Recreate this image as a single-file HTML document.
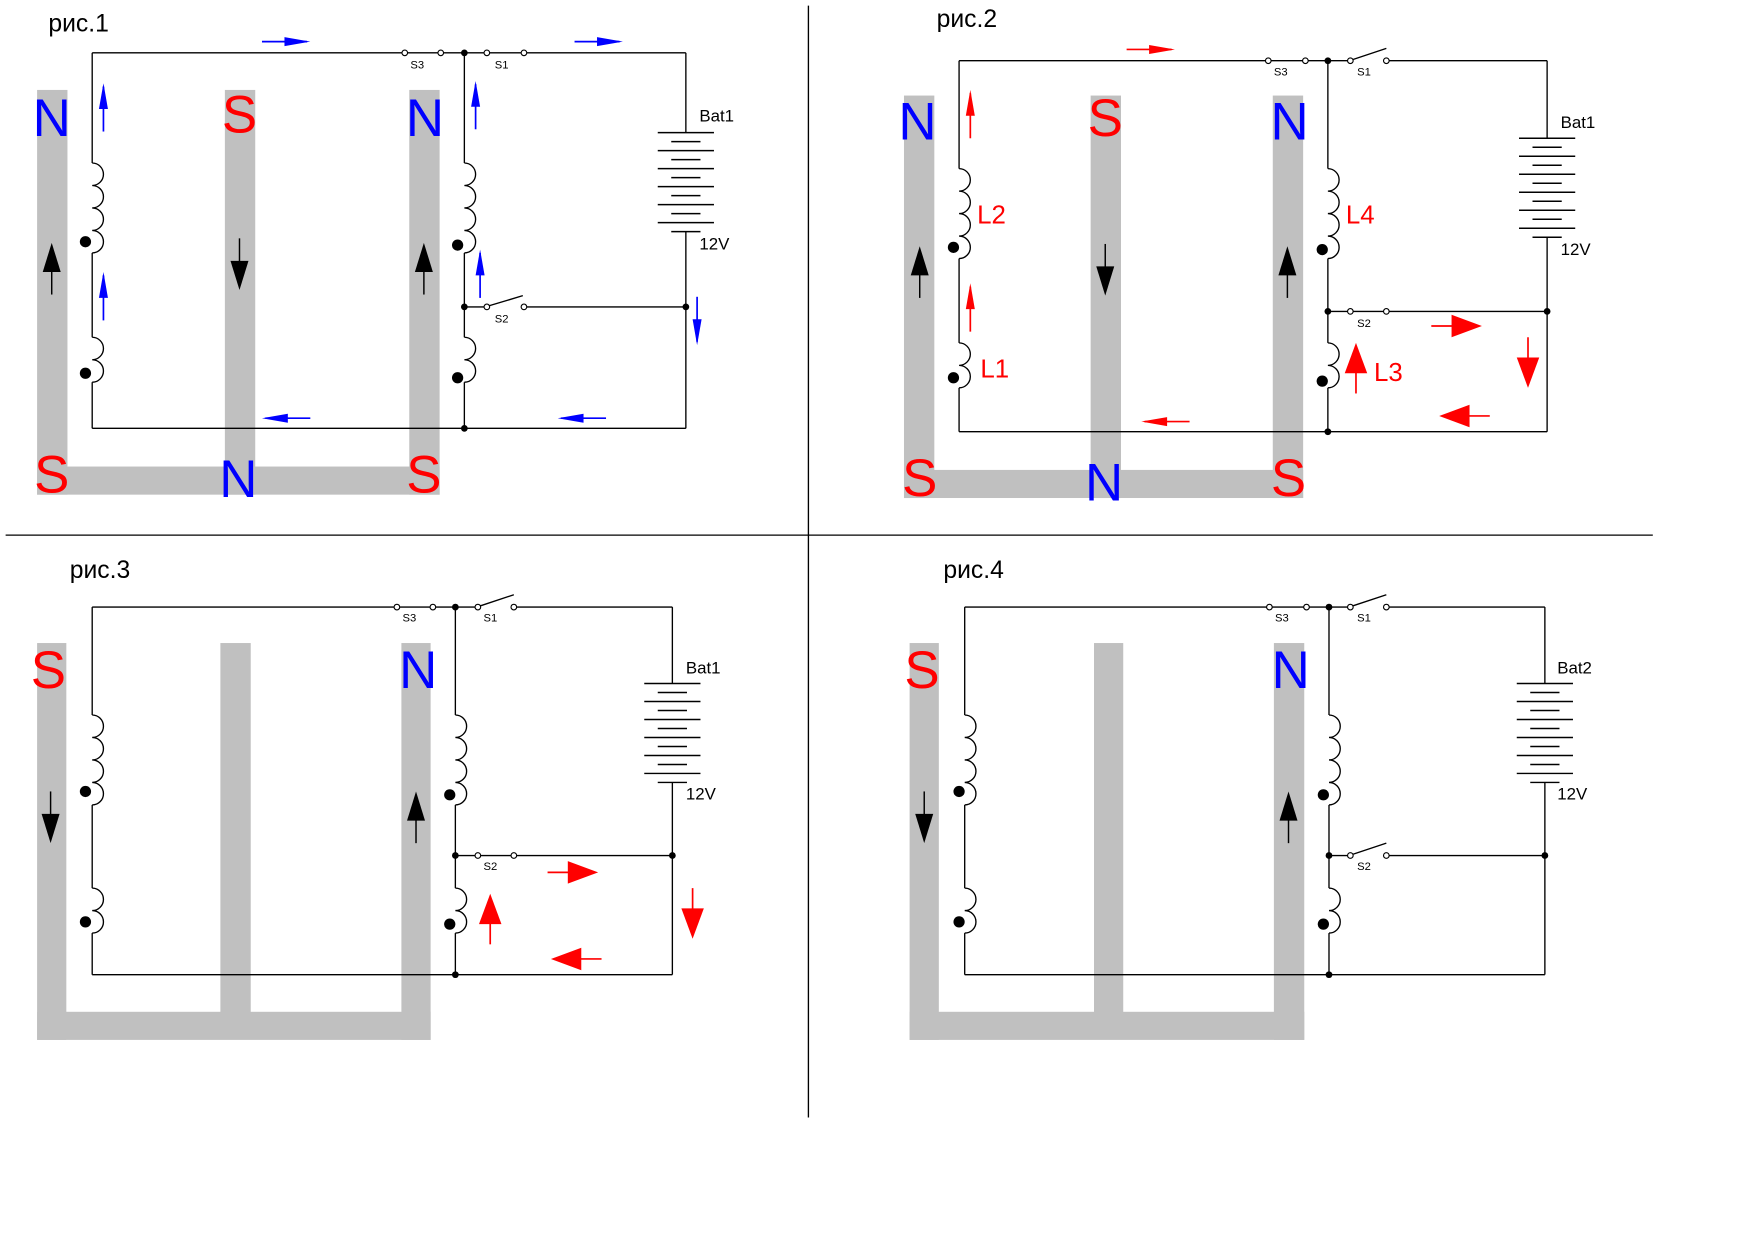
<!DOCTYPE html>
<html><head><meta charset="utf-8"><style>html,body{margin:0;padding:0;background:#fff}svg{display:block}</style></head><body>
<svg width="1754" height="1240" viewBox="0 0 1560 1103" preserveAspectRatio="none" xmlns="http://www.w3.org/2000/svg" font-family="Liberation Sans, sans-serif">
<defs>
<path id="c4" d="M0,0 a10,10 0 0 1 0,20 a10,10 0 0 1 0,20 a10,10 0 0 1 0,20 a10,10 0 0 1 0,20" fill="none" stroke="#000" stroke-width="1.2"/>
<path id="c2" d="M0,0 a10,10 0 0 1 0,20 a10,10 0 0 1 0,20" fill="none" stroke="#000" stroke-width="1.2"/>
<g id="bat" stroke="#000" stroke-width="1.3">
<line x1="-25" y1="0" x2="25" y2="0"/><line x1="-13" y1="8" x2="13" y2="8"/>
<line x1="-25" y1="16" x2="25" y2="16"/><line x1="-13" y1="24" x2="13" y2="24"/>
<line x1="-25" y1="32" x2="25" y2="32"/><line x1="-13" y1="40" x2="13" y2="40"/>
<line x1="-25" y1="48" x2="25" y2="48"/><line x1="-13" y1="56" x2="13" y2="56"/>
<line x1="-25" y1="64" x2="25" y2="64"/><line x1="-13" y1="72" x2="13" y2="72"/>
<line x1="-25" y1="80" x2="25" y2="80"/><line x1="-13" y1="88" x2="13" y2="88"/>
</g>
<g id="sa"><line x1="0" y1="0" x2="40" y2="0" stroke="#00f" stroke-width="1.5"/><polygon points="20,-4 43,0 20,4" fill="#00f"/></g>
<g id="ra"><line x1="0" y1="0" x2="40" y2="0" stroke="#f00" stroke-width="1.5"/><polygon points="20,-4 43,0 20,4" fill="#f00"/></g>
<g id="ba"><line x1="0" y1="0" x2="22" y2="0" stroke="#f00" stroke-width="1.5"/><polygon points="18,-10 45,0 18,10" fill="#f00"/></g>
<g id="ka"><line x1="0" y1="0" x2="22" y2="0" stroke="#000" stroke-width="1.3"/><polygon points="20,-8 46,0 20,8" fill="#000"/></g>
</defs>
<!-- dividers -->
<g stroke="#000" stroke-width="1.2"><line x1="719" y1="5" x2="719" y2="994"/><line x1="5" y1="476" x2="1470" y2="476"/></g>

<!-- ===== PANEL 1 ===== -->
<g fill="#c0c0c0"><rect x="33" y="80" width="27" height="360"/><rect x="200" y="80" width="27" height="360"/><rect x="364" y="80" width="27" height="360"/><rect x="33" y="415" width="358" height="25"/></g>
<text x="43" y="28" font-size="22">рис.1</text>
<g stroke="#000" stroke-width="1.2" fill="none">
<line x1="82" y1="47" x2="610" y2="47"/>
<line x1="82" y1="381" x2="610" y2="381"/>
<polyline points="610,47 610,118"/><polyline points="610,206 610,381"/>
<line x1="82" y1="47" x2="82" y2="145"/><line x1="82" y1="225" x2="82" y2="300"/><line x1="82" y1="340" x2="82" y2="381"/>
<line x1="413" y1="47" x2="413" y2="145"/><line x1="413" y1="225" x2="413" y2="300"/><line x1="413" y1="340" x2="413" y2="381"/>
<line x1="413" y1="273" x2="433" y2="273"/><line x1="435" y1="272" x2="465" y2="263"/><line x1="466" y1="273" x2="610" y2="273"/>
</g>
<use href="#c4" x="82" y="145"/><use href="#c2" x="82" y="300"/>
<use href="#c4" x="413" y="145"/><use href="#c2" x="413" y="300"/>
<use href="#bat" x="610" y="118"/>
<g fill="#000"><circle cx="76" cy="215" r="5"/><circle cx="76" cy="332" r="5"/><circle cx="407" cy="218" r="5"/><circle cx="407" cy="336" r="5"/>
<circle cx="413" cy="47" r="3"/><circle cx="413" cy="273" r="3"/><circle cx="413" cy="381" r="3"/><circle cx="610" cy="273" r="3"/></g>
<g fill="#fff" stroke="#000" stroke-width="1"><circle cx="360" cy="47" r="2.5"/><circle cx="392" cy="47" r="2.5"/><circle cx="433" cy="47" r="2.5"/><circle cx="466" cy="47" r="2.5"/><circle cx="433" cy="273" r="2.5"/><circle cx="466" cy="273" r="2.5"/></g>
<g font-size="10"><text x="365" y="61">S3</text><text x="440" y="61">S1</text><text x="440" y="287">S2</text></g>
<g font-size="15"><text x="622" y="108">Bat1</text><text x="622" y="222">12V</text></g>
<g font-size="47" text-anchor="middle">
<text x="46" y="121" fill="#00f">N</text><text x="213" y="118" fill="#f00">S</text><text x="378" y="121" fill="#00f">N</text>
<text x="46" y="438" fill="#f00">S</text><text x="212" y="442" fill="#00f">N</text><text x="377" y="438" fill="#f00">S</text></g>
<use href="#ka" transform="translate(46,262) rotate(-90)"/><use href="#ka" transform="translate(213,212) rotate(90)"/><use href="#ka" transform="translate(377,262) rotate(-90)"/>
<use href="#sa" transform="translate(233,37)"/><use href="#sa" transform="translate(511,37)"/>
<use href="#sa" transform="translate(92,117) rotate(-90)"/><use href="#sa" transform="translate(92,285) rotate(-90)"/>
<use href="#sa" transform="translate(423,115) rotate(-90)"/><use href="#sa" transform="translate(427,265) rotate(-90)"/>
<use href="#sa" transform="translate(620,264) rotate(90)"/>
<use href="#sa" transform="translate(276,372) rotate(180)"/><use href="#sa" transform="translate(539,372) rotate(180)"/>

<!-- ===== PANEL 2 ===== -->
<g fill="#c0c0c0"><rect x="804" y="85" width="27" height="358"/><rect x="970" y="85" width="27" height="358"/><rect x="1132" y="85" width="27" height="358"/><rect x="804" y="418" width="355" height="25"/></g>
<text x="833" y="24" font-size="22">рис.2</text>
<g stroke="#000" stroke-width="1.2" fill="none">
<line x1="853" y1="54" x2="1201" y2="54"/><line x1="1203" y1="53" x2="1233" y2="43"/><line x1="1233" y1="54" x2="1376" y2="54"/>
<line x1="853" y1="384" x2="1376" y2="384"/>
<line x1="1376" y1="54" x2="1376" y2="123"/><line x1="1376" y1="211" x2="1376" y2="384"/>
<line x1="853" y1="54" x2="853" y2="150"/><line x1="853" y1="230" x2="853" y2="305"/><line x1="853" y1="345" x2="853" y2="384"/>
<line x1="1181" y1="54" x2="1181" y2="150"/><line x1="1181" y1="230" x2="1181" y2="305"/><line x1="1181" y1="345" x2="1181" y2="384"/>
<line x1="1181" y1="277" x2="1376" y2="277"/>
</g>
<use href="#c4" x="853" y="150"/><use href="#c2" x="853" y="305"/>
<use href="#c4" x="1181" y="150"/><use href="#c2" x="1181" y="305"/>
<use href="#bat" x="1376" y="123"/>
<g fill="#000"><circle cx="848" cy="220" r="5"/><circle cx="848" cy="336" r="5"/><circle cx="1176" cy="222" r="5"/><circle cx="1176" cy="339" r="5"/>
<circle cx="1181" cy="54" r="3"/><circle cx="1181" cy="277" r="3"/><circle cx="1181" cy="384" r="3"/><circle cx="1376" cy="277" r="3"/></g>
<g fill="#fff" stroke="#000" stroke-width="1"><circle cx="1128" cy="54" r="2.5"/><circle cx="1161" cy="54" r="2.5"/><circle cx="1201" cy="54" r="2.5"/><circle cx="1233" cy="54" r="2.5"/><circle cx="1201" cy="277" r="2.5"/><circle cx="1233" cy="277" r="2.5"/></g>
<g font-size="10"><text x="1133" y="67">S3</text><text x="1207" y="67">S1</text><text x="1207" y="291">S2</text></g>
<g font-size="15"><text x="1388" y="114">Bat1</text><text x="1388" y="227">12V</text></g>
<g font-size="47" text-anchor="middle">
<text x="816" y="124" fill="#00f">N</text><text x="983" y="121" fill="#f00">S</text><text x="1147" y="124" fill="#00f">N</text>
<text x="818" y="441" fill="#f00">S</text><text x="982" y="445" fill="#00f">N</text><text x="1146" y="441" fill="#f00">S</text></g>
<g font-size="23" fill="#f00"><text x="869" y="199">L2</text><text x="872" y="336">L1</text><text x="1197" y="199">L4</text><text x="1222" y="339">L3</text></g>
<use href="#ka" transform="translate(818,265) rotate(-90)"/><use href="#ka" transform="translate(983,217) rotate(90)"/><use href="#ka" transform="translate(1145,265) rotate(-90)"/>
<use href="#ra" transform="translate(1002,44)"/><use href="#ra" transform="translate(863,123) rotate(-90)"/><use href="#ra" transform="translate(863,295) rotate(-90)"/>
<use href="#ra" transform="translate(1058,375) rotate(180)"/>
<use href="#ba" transform="translate(1273,290)"/><use href="#ba" transform="translate(1359,300) rotate(90)"/>
<use href="#ba" transform="translate(1325,370) rotate(180)"/><use href="#ba" transform="translate(1206,350) rotate(-90)"/>

<!-- ===== PANEL 3 ===== -->
<g fill="#c0c0c0"><rect x="33" y="572" width="26" height="353"/><rect x="196" y="572" width="27" height="330"/><rect x="357" y="572" width="26" height="353"/><rect x="33" y="900" width="350" height="25"/></g>
<text x="62" y="514" font-size="22">рис.3</text>
<g stroke="#000" stroke-width="1.2" fill="none">
<line x1="82" y1="540" x2="425" y2="540"/><line x1="427" y1="539" x2="457" y2="529"/><line x1="457" y1="540" x2="598" y2="540"/>
<line x1="82" y1="867" x2="598" y2="867"/>
<line x1="598" y1="540" x2="598" y2="608"/><line x1="598" y1="696" x2="598" y2="867"/>
<line x1="82" y1="540" x2="82" y2="636"/><line x1="82" y1="716" x2="82" y2="790"/><line x1="82" y1="830" x2="82" y2="867"/>
<line x1="405" y1="540" x2="405" y2="636"/><line x1="405" y1="716" x2="405" y2="790"/><line x1="405" y1="830" x2="405" y2="867"/>
<line x1="405" y1="761" x2="598" y2="761"/>
</g>
<use href="#c4" x="82" y="636"/><use href="#c2" x="82" y="790"/>
<use href="#c4" x="405" y="636"/><use href="#c2" x="405" y="790"/>
<use href="#bat" x="598" y="608"/>
<g fill="#000"><circle cx="76" cy="704" r="5"/><circle cx="76" cy="820" r="5"/><circle cx="400" cy="707" r="5"/><circle cx="400" cy="822" r="5"/>
<circle cx="405" cy="540" r="3"/><circle cx="405" cy="761" r="3"/><circle cx="405" cy="867" r="3"/><circle cx="598" cy="761" r="3"/></g>
<g fill="#fff" stroke="#000" stroke-width="1"><circle cx="353" cy="540" r="2.5"/><circle cx="385" cy="540" r="2.5"/><circle cx="425" cy="540" r="2.5"/><circle cx="457" cy="540" r="2.5"/><circle cx="425" cy="761" r="2.5"/><circle cx="457" cy="761" r="2.5"/></g>
<g font-size="10"><text x="358" y="553">S3</text><text x="430" y="553">S1</text><text x="430" y="774">S2</text></g>
<g font-size="15"><text x="610" y="599">Bat1</text><text x="610" y="711">12V</text></g>
<g font-size="47" text-anchor="middle"><text x="43" y="612" fill="#f00">S</text><text x="372" y="612" fill="#00f">N</text></g>
<use href="#ka" transform="translate(45,704) rotate(90)"/><use href="#ka" transform="translate(370,750) rotate(-90)"/>
<use href="#ba" transform="translate(487,776)"/><use href="#ba" transform="translate(616,790) rotate(90)"/>
<use href="#ba" transform="translate(535,853) rotate(180)"/><use href="#ba" transform="translate(436,840) rotate(-90)"/>

<!-- ===== PANEL 4 ===== -->
<g fill="#c0c0c0"><rect x="809" y="572" width="26" height="353"/><rect x="973" y="572" width="26" height="330"/><rect x="1133" y="572" width="27" height="353"/><rect x="809" y="900" width="351" height="25"/></g>
<text x="839" y="514" font-size="22">рис.4</text>
<g stroke="#000" stroke-width="1.2" fill="none">
<line x1="858" y1="540" x2="1201" y2="540"/><line x1="1203" y1="539" x2="1233" y2="529"/><line x1="1233" y1="540" x2="1374" y2="540"/>
<line x1="858" y1="867" x2="1374" y2="867"/>
<line x1="1374" y1="540" x2="1374" y2="608"/><line x1="1374" y1="696" x2="1374" y2="867"/>
<line x1="858" y1="540" x2="858" y2="636"/><line x1="858" y1="716" x2="858" y2="790"/><line x1="858" y1="830" x2="858" y2="867"/>
<line x1="1182" y1="540" x2="1182" y2="636"/><line x1="1182" y1="716" x2="1182" y2="790"/><line x1="1182" y1="830" x2="1182" y2="867"/>
<line x1="1182" y1="761" x2="1201" y2="761"/><line x1="1203" y1="760" x2="1233" y2="750"/><line x1="1233" y1="761" x2="1374" y2="761"/>
</g>
<use href="#c4" x="858" y="636"/><use href="#c2" x="858" y="790"/>
<use href="#c4" x="1182" y="636"/><use href="#c2" x="1182" y="790"/>
<use href="#bat" x="1374" y="608"/>
<g fill="#000"><circle cx="853" cy="704" r="5"/><circle cx="853" cy="820" r="5"/><circle cx="1177" cy="707" r="5"/><circle cx="1177" cy="822" r="5"/>
<circle cx="1182" cy="540" r="3"/><circle cx="1182" cy="761" r="3"/><circle cx="1182" cy="867" r="3"/><circle cx="1374" cy="761" r="3"/></g>
<g fill="#fff" stroke="#000" stroke-width="1"><circle cx="1129" cy="540" r="2.5"/><circle cx="1162" cy="540" r="2.5"/><circle cx="1201" cy="540" r="2.5"/><circle cx="1233" cy="540" r="2.5"/><circle cx="1201" cy="761" r="2.5"/><circle cx="1233" cy="761" r="2.5"/></g>
<g font-size="10"><text x="1134" y="553">S3</text><text x="1207" y="553">S1</text><text x="1207" y="774">S2</text></g>
<g font-size="15"><text x="1385" y="599">Bat2</text><text x="1385" y="711">12V</text></g>
<g font-size="47" text-anchor="middle"><text x="820" y="612" fill="#f00">S</text><text x="1148" y="612" fill="#00f">N</text></g>
<use href="#ka" transform="translate(822,704) rotate(90)"/><use href="#ka" transform="translate(1146,750) rotate(-90)"/>
</svg>
</body></html>
